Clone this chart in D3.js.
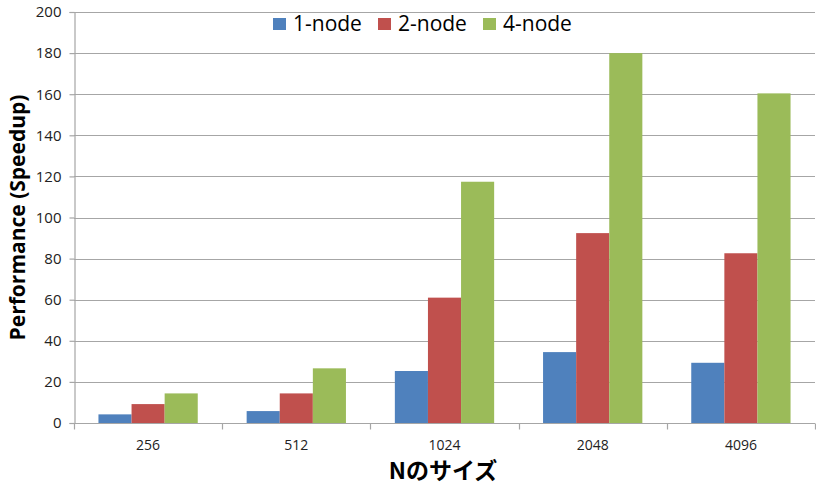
<!DOCTYPE html>
<html>
<head>
<meta charset="utf-8">
<script src="https://cdn.jsdelivr.net/npm/d3@7"></script>
<style>
  html, body { margin: 0; padding: 0; background: #fff; }
  svg { display: block; font-family: "Open Sans", "Noto Sans", sans-serif; }
</style>
</head>
<body>
<svg id="chart" width="816" height="486"></svg>
<script>
// Problem sizes and measured speedups per node count
const sizes = ["256", "512", "1024", "2048", "4096"];
const seriesNames = ["1-node", "2-node", "4-node"];
const node1 = [4.2, 5.8, 25.3, 34.5, 29.3];
const node2 = [9.2, 14.4, 61.0, 92.4, 82.6];
const node4 = [14.4, 26.6, 117.4, 180.0, 160.4];
const yTicks = [0, 20, 40, 60, 80, 100, 120, 140, 160, 180, 200];
const colors = ["#4F81BD", "#C0504D", "#9BBB59"];

const seriesValues = [node1, node2, node4];
const rows = sizes.map((s, i) => ({ size: s, values: seriesValues.map(v => v[i]) }));

const svg = d3.select("#chart");
const margin = { left: 74, right: 1, top: 12, bottom: 63 };
const W = 816, H = 486;
const plotW = W - margin.left - margin.right;
const plotH = H - margin.top - margin.bottom;

const g = svg.append("g").attr("transform", `translate(${margin.left},${margin.top})`);

const x = d3.scaleBand().domain(sizes).range([0, plotW]);
const y = d3.scaleLinear().domain([0, 200]).range([plotH, 0]);
const inner = d3.scaleBand().domain(d3.range(seriesNames.length))
  .range([x.bandwidth() * 0.165, x.bandwidth() * 0.835]);

// horizontal gridlines
g.append("g").selectAll("line").data(yTicks).join("line")
  .attr("x1", 0).attr("x2", plotW)
  .attr("y1", d => Math.round(y(d)) + 0.5).attr("y2", d => Math.round(y(d)) + 0.5)
  .attr("stroke", "#a6a6a6").attr("stroke-width", 1.2);

// y axis
const yAxis = g.append("g").attr("transform", "translate(0.5,0)")
  .call(d3.axisLeft(y).tickValues(yTicks).tickSize(5).tickPadding(8));
yAxis.select(".domain").attr("stroke", "#a6a6a6").attr("stroke-width", 1.2);
yAxis.selectAll(".tick line").attr("stroke", "#a6a6a6").attr("stroke-width", 1.2);
yAxis.selectAll(".tick text").attr("font-size", 15).attr("fill", "#222")
  .attr("font-family", "'Open Sans', sans-serif");

// bars
const groups = g.append("g").selectAll("g").data(rows).join("g")
  .attr("transform", d => `translate(${x(d.size)},0)`);
groups.selectAll("rect").data(d => d.values).join("rect")
  .attr("x", (d, i) => inner(i))
  .attr("width", inner.bandwidth())
  .attr("y", d => y(d))
  .attr("height", d => plotH - y(d))
  .attr("fill", (d, i) => colors[i]);

// x axis with ticks on category boundaries
const xAxisG = g.append("g").attr("transform", `translate(0,${Math.round(plotH) + 0.5})`);
xAxisG.append("line").attr("x1", 0).attr("x2", plotW)
  .attr("stroke", "#a6a6a6").attr("stroke-width", 1.2);
const boundaries = sizes.map(s => x(s)).concat([plotW]);
xAxisG.selectAll("line.tk").data(boundaries).join("line").attr("class", "tk")
  .attr("x1", d => Math.round(d) + 0.5).attr("x2", d => Math.round(d) + 0.5)
  .attr("y1", 0).attr("y2", 6)
  .attr("stroke", "#a6a6a6").attr("stroke-width", 1.2);
xAxisG.selectAll("text").data(sizes).join("text")
  .attr("x", d => x(d) + x.bandwidth() / 2)
  .attr("y", 26)
  .attr("text-anchor", "middle")
  .attr("font-size", 14).attr("fill", "#222")
  .text(d => d);

// axis titles
svg.append("text")
  .attr("transform", `translate(25,${margin.top + plotH / 2}) rotate(-90)`)
  .attr("text-anchor", "middle")
  .attr("font-size", 21).attr("font-weight", "bold").attr("fill", "#000")
  .text("Performance (Speedup)");
svg.append("text")
  .attr("x", 443).attr("y", 479)
  .attr("text-anchor", "middle")
  .attr("font-family", "'Noto Sans CJK JP', sans-serif")
  .attr("font-size", 23).attr("font-weight", "bold").attr("fill", "#000")
  .text("Nのサイズ");

// legend
const legendX = [273, 378, 483];
const legend = svg.append("g").selectAll("g").data(seriesNames).join("g")
  .attr("transform", (d, i) => `translate(${legendX[i]},0)`);
legend.append("rect").attr("x", 0).attr("y", 18).attr("width", 13).attr("height", 12)
  .attr("fill", (d, i) => colors[i]);
legend.append("text").attr("x", 20).attr("y", 31)
  .attr("font-size", 21).attr("fill", "#000")
  .text(d => d);
</script>
</body>
</html>
